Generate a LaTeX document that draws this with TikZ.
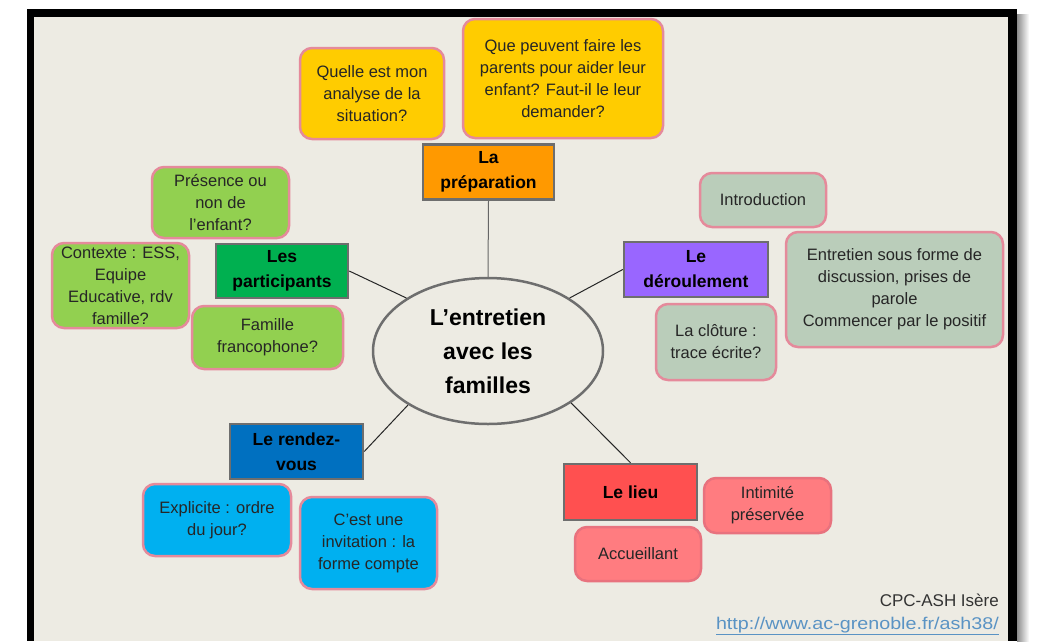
\documentclass[tikz,border=0pt]{standalone}
\usepackage{fontspec}
\setmainfont{Liberation Sans}
\usetikzlibrary{shapes.geometric}
\definecolor{paper}{HTML}{EDEBE3}
\definecolor{rim}{HTML}{E58A9B}
\definecolor{rimred}{HTML}{E8727E}
\definecolor{frame}{HTML}{6E6E6E}
\definecolor{cyellow}{HTML}{FFCC00}
\definecolor{corange}{HTML}{FF9900}
\definecolor{clgreen}{HTML}{92D050}
\definecolor{cdgreen}{HTML}{00B050}
\definecolor{cpurple}{HTML}{9966FF}
\definecolor{csage}{HTML}{BACDBA}
\definecolor{cblue}{HTML}{0070C0}
\definecolor{ccyan}{HTML}{00B0F0}
\definecolor{cred}{HTML}{FF5050}
\definecolor{cpink}{HTML}{FF7C80}
\definecolor{link}{HTML}{5A93C4}
\begin{document}
\begin{tikzpicture}[
  x=1pt, y=-1pt,
  hub/.style={
    ellipse,
    draw=frame,
    line width=2.5pt,
    fill=paper,
    align=center,
    inner sep=0pt,
    minimum width=230pt,
    minimum height=146pt,
    font=\fontsize{23}{34}\selectfont\bfseries
  },
  topic/.style={
    draw=frame,
    line width=2.5pt,
    align=center,
    inner sep=0pt,
    minimum height=55pt,
    font=\fontsize{17.5}{25}\selectfont\bfseries
  },
  idea/.style={
    draw=rim,
    line width=2.5pt,
    rounded corners=12pt,
    align=center,
    inner sep=0pt,
    text=black!85,
    font=\fontsize{16.5}{22}\selectfont
  },
  link/.style={draw=black!85, line width=1pt}
]
\useasboundingbox (0,0) rectangle (1039,641);
\shade[left color=black!45, right color=white] (1017,14) rectangle (1029,641);
\fill[black] (27,9) rectangle (1017,641);
\fill[paper] (34,17) rectangle (1008,641);

\node[hub] (c) at (488,351) {L'entretien\\avec les\\familles};

\node[topic, fill=corange, minimum width=131pt] (prep) at (488.5,172) {La\\préparation};
\node[idea, fill=cyellow, minimum width=144pt, minimum height=91pt] (q1) at (372,93.5) {Quelle est mon\\analyse de la\\situation?};
\node[idea, fill=cyellow, minimum width=200pt, minimum height=119pt] (q2) at (563,78.5) {Que peuvent faire les\\parents pour aider leur\\enfant? Faut-il le leur\\demander?};

\node[topic, fill=cdgreen, minimum width=132pt, minimum height=54pt] (part) at (282,271) {Les\\participants};
\node[idea, fill=clgreen, minimum width=137pt, minimum height=71pt] (pres) at (220.5,202.5) {Présence ou\\non de\\l’enfant?};
\node[idea, fill=clgreen, minimum width=137pt, minimum height=85pt] (ctx) at (120.5,285.5) {Contexte : ESS,\\Equipe\\Educative, rdv\\famille?};
\node[idea, fill=clgreen, minimum width=151pt, minimum height=63pt] (fam) at (267.5,337.5) {Famille\\francophone?};

\node[topic, fill=cpurple, minimum width=144pt] (der) at (696,269.5) {Le\\déroulement};
\node[idea, fill=csage, minimum width=126pt, minimum height=54pt] (intro) at (763,200) {Introduction};
\node[idea, fill=csage, minimum width=217pt, minimum height=115pt] (entr) at (894.5,289.5) {Entretien sous forme de\\discussion, prises de\\parole\\Commencer par le positif};
\node[idea, fill=csage, minimum width=120pt, minimum height=76pt] (clot) at (716,342) {La clôture :\\trace écrite?};

\node[topic, fill=cblue, minimum width=133pt] (rdv) at (296.5,451.5) {Le rendez-\\vous};
\node[idea, fill=ccyan, minimum width=148pt, minimum height=72pt] (expl) at (217,520) {Explicite : ordre\\du jour?};
\node[idea, fill=ccyan, minimum width=137pt, minimum height=92pt] (invit) at (368.5,543) {C’est une\\invitation : la\\forme compte};

\node[topic, fill=cred, minimum width=133pt, minimum height=56pt] (lieu) at (630.5,492) {Le lieu};
\node[idea, draw=rimred, fill=cpink, minimum width=127pt, minimum height=55pt] (intim) at (767.5,505.5) {Intimité\\préservée};
\node[idea, draw=rimred, fill=cpink, minimum width=126pt, minimum height=54pt] (accu) at (638,554) {Accueillant};

\node[anchor=east, inner sep=0pt, text=black!80, font=\fontsize{17}{20}\selectfont] (sign) at (999,600) {CPC-ASH Isère};
\node[anchor=east, inner sep=0pt, text=link, font=\fontsize{17}{20}\selectfont] (url) at (999,626) {\scalebox{1.16}[1]{\underline{http://www.ac-grenoble.fr/ash38/}}};

\draw[link, draw=black!60] (c.north) -- (prep.south);
\draw[link] (c.147) -- (part.east);
\draw[link] (c.33) -- (der.west);
\draw[link] (c.214) -- (rdv.east);
\draw[link] (c.-32) -- (lieu.north);
\end{tikzpicture}
\end{document}
